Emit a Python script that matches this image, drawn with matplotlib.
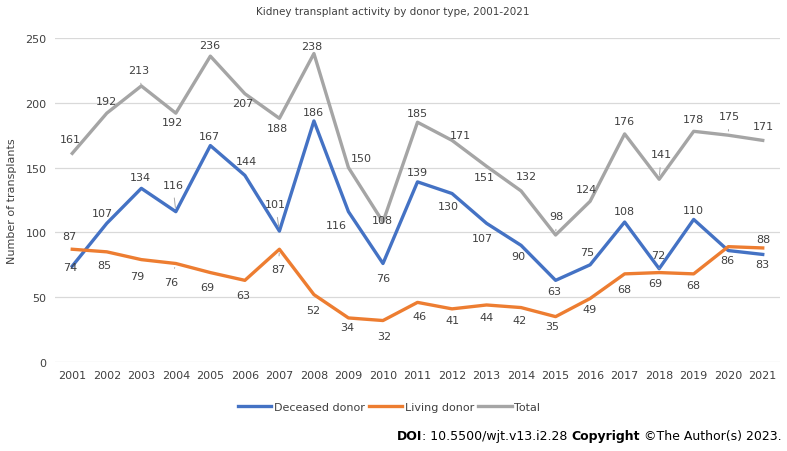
import numpy as np
import matplotlib.pyplot as plt

# data
years = [str(y) for y in range(2001, 2022)]
deceased = [74, 107, 134, 116, 167, 144, 101, 186, 116, 76, 139, 130, 107, 90, 63, 75, 108, 72, 110, 86, 83]
living = [87, 85, 79, 76, 69, 63, 87, 52, 34, 32, 46, 41, 44, 42, 35, 49, 68, 69, 68, 89, 88]
total = [161, 192, 213, 192, 236, 207, 188, 238, 150, 108, 185, 171, 151, 132, 98, 124, 176, 141, 178, 175, 171]
yticks = [0, 50, 100, 150, 200, 250]

# label offsets in pixels (dx, dy; dy positive = down), None = hidden
off_total = [(-2, -14), (0, -12), (-3, -16), (-3, 9), (-1, -11), (-2, 9), (-2, 10), (-2, -8), (13, -10), (-1, -2),
             (0, -9), (8, -5), (-2, 11), (5, -15), (1, -19), (-4, -12), (0, -13), (2, -25), (0, -12), (1, -19), (1, -14)]
off_dec = [(-2, 1), (-4, -10), (-1, -11), (-3, -27), (-1, -10), (2, -14), (-4, -27), (-1, -9), (-12, 13), (0, 14),
           (0, -10), (-4, 12), (-4, 15), (-3, 11), (-1, 11), (-3, -13), (0, -11), (-1, -14), (0, -9), (-1, 9), (0, 10)]
off_liv = [(-3, -13), (-2, 13), (-4, 16), (-5, 18), (-3, 14), (-2, 15), (-1, 20), (-1, 15), (-1, 9), (1, 15),
           (2, 14), (0, 11), (0, 12), (-2, 12), (-3, 9), (-1, 11), (0, 15), (-4, 10), (0, 11), None, (1, -9)]
lead_total = [2, 14, 17, 19]
lead_dec = [3, 6, 17]
lead_liv = [3, 6]

c_dec = '#4472C4'
c_liv = '#ED7D31'
c_tot = '#A5A5A5'

fig = plt.figure(figsize=(7.87, 4.52), dpi=100)
ax = fig.add_axes([55/787, 89/452, 725/787, 324/452])

x = np.arange(len(years))
ax.plot(x, deceased, color=c_dec, lw=2.4, label='Deceased donor')
ax.plot(x, living, color=c_liv, lw=2.4, label='Living donor')
ax.plot(x, total, color=c_tot, lw=2.4, label='Total')


def add_labels(vals, offs, leads):
    for i, v in enumerate(vals):
        if offs[i] is None:
            continue
        dx, dy = offs[i]
        ap = None
        if i in leads:
            ap = dict(arrowstyle='-', color='#a6a6a6', lw=0.7, shrinkA=4, shrinkB=3)
        ax.annotate(str(v), (i, v), xytext=(dx*0.72, -dy*0.72), textcoords='offset points',
                    ha='center', va='center', fontsize=8, color='#404040', arrowprops=ap)


add_labels(total, off_total, lead_total)
add_labels(deceased, off_dec, lead_dec)
add_labels(living, off_liv, lead_liv)

ax.set_xlim(-0.5, len(years) - 0.5)
ax.set_ylim(0, 250)
ax.set_xticks(x)
ax.set_xticklabels(years, fontsize=8, color='#404040')
ax.set_yticks(yticks)
ax.set_yticklabels([str(t) for t in yticks], fontsize=8, color='#404040')
ax.tick_params(length=0, pad=6)
ax.grid(axis='y', color='#d9d9d9', lw=0.9)
ax.set_axisbelow(True)
for s in ax.spines.values():
    s.set_visible(False)
ax.set_ylabel('Number of transplants', fontsize=8, color='#404040', labelpad=6)

fig.text(393/787, 1 - 12/452, 'Kidney transplant activity by donor type, 2001-2021',
         ha='center', va='center', fontsize=7.5, color='#404040')

ax.legend(loc='center', bbox_to_anchor=(389/787, 1 - 408/452), bbox_transform=fig.transFigure,
          ncol=3, frameon=False, fontsize=8, handlelength=3.0, handletextpad=0.2,
          columnspacing=0.4, labelcolor='#404040')

# footer: DOI + copyright, bold parts chained one after the other
t1 = fig.text(397/787, 1 - 437/452, 'DOI', fontsize=9, weight='bold', va='center')
t2 = ax.annotate(': 10.5500/wjt.v13.i2.28 ', xy=(1, 0.5), xycoords=t1, va='center', ha='left', fontsize=9)
t3 = ax.annotate('Copyright', xy=(1, 0.5), xycoords=t2, va='center', ha='left', fontsize=9, weight='bold')
ax.annotate(' ©The Author(s) 2023.', xy=(1, 0.5), xycoords=t3, va='center', ha='left', fontsize=9)

fig.savefig('out.png', dpi=100)
